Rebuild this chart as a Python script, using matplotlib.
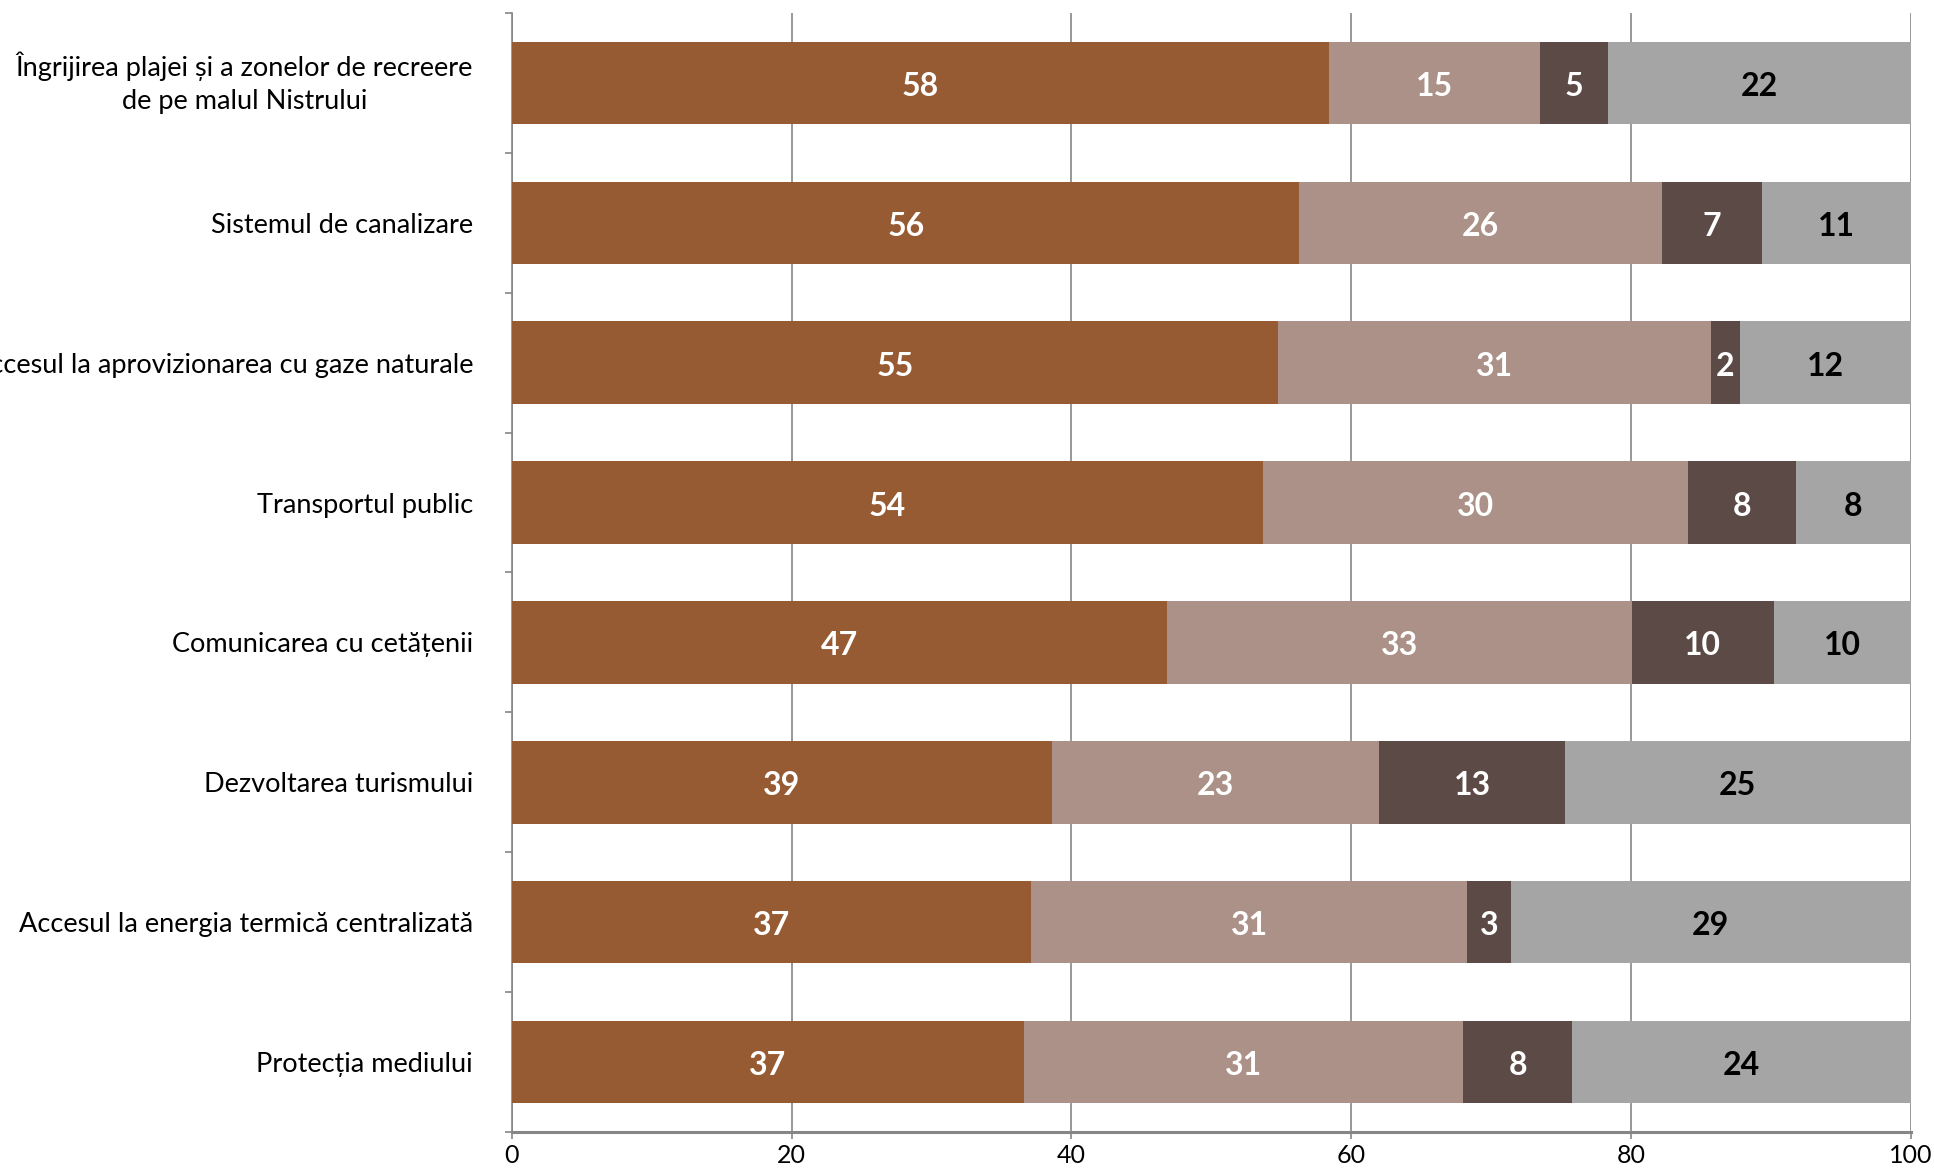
import matplotlib
matplotlib.use("Agg")
import matplotlib.pyplot as plt
import matplotlib.transforms as mtransforms
import numpy as np

plt.rcParams['font.family'] = ['Lato', 'DejaVu Sans']

categories = [
    "Îngrijirea plajei și a zonelor de recreere\nde pe malul Nistrului",
    "Sistemul de canalizare",
    "Accesul la aprovizionarea cu gaze naturale",
    "Transportul public",
    "Comunicarea cu cetățenii",
    "Dezvoltarea turismului",
    "Accesul la energia termică centralizată",
    "Protecția mediului",
]
series1 = [58.4, 56.3, 54.8, 53.7, 46.8, 38.6, 37.1, 36.6]
series2 = [15.1, 25.9, 30.9, 30.4, 33.3, 23.4, 31.2, 31.4]
series3 = [4.9, 7.2, 2.1, 7.7, 10.1, 13.3, 3.1, 7.8]
series4 = [21.6, 10.6, 12.2, 8.2, 9.8, 24.7, 28.6, 24.2]
xticks = [0, 20, 40, 60, 80, 100]

colors = ["#965B33", "#AB9187", "#5C4A46", "#A5A5A5"]
text_colors = ["white", "white", "white", "black"]

fig = plt.figure(figsize=(19.34, 11.70), dpi=100)
ax = fig.add_axes([0.2647, 0.0325, 0.9879 - 0.2647, 0.9889 - 0.0325])

y = np.arange(len(categories))
left = np.zeros(len(categories))
for vals, c, tc in zip([series1, series2, series3, series4], colors, text_colors):
    vals = np.array(vals)
    ax.barh(y, vals, left=left, height=0.59, color=c, zorder=3)
    for yi, l, v in zip(y, left, vals):
        ax.annotate(f"{v:.0f}", (l + v / 2, yi), xytext=(0, -2.5),
                    textcoords="offset points", ha="center", va="center",
                    color=tc, fontsize=23, fontweight="bold", zorder=4)
    left = left + vals

ax.set_xlim(0, 100)
ax.set_ylim(len(categories) - 0.5, -0.5)
ax.set_xticks(xticks)
ax.set_xticklabels([str(t) for t in xticks], fontsize=18)
ax.set_yticks(y)
ax.set_yticklabels(categories, fontsize=19.5)
for lbl in ax.get_yticklabels():
    lbl.set_multialignment("center")
    lbl.set_linespacing(1.4)
ax.set_yticks(np.arange(-0.5, len(categories), 1.0), minor=True)

ax.tick_params(axis="y", which="major", length=0, pad=28)
ax.tick_params(axis="y", which="minor", length=5, width=1.2, color="#868686", direction="out")
ax.tick_params(axis="x", which="major", length=5, width=1.2, color="#868686", pad=4)

first = ax.get_yticklabels()[0]
first.set_transform(first.get_transform() +
                    mtransforms.ScaledTranslation(0, 0.07, fig.dpi_scale_trans))

ax.xaxis.grid(True, color="#868686", linewidth=1.2, zorder=0)
ax.set_axisbelow(True)
for s in ["top", "right"]:
    ax.spines[s].set_visible(False)
ax.spines["left"].set_color("#868686")
ax.spines["left"].set_linewidth(1.2)
ax.spines["bottom"].set_color("#868686")
ax.spines["bottom"].set_linewidth(2.2)

fig.savefig("out.png", dpi=100)
